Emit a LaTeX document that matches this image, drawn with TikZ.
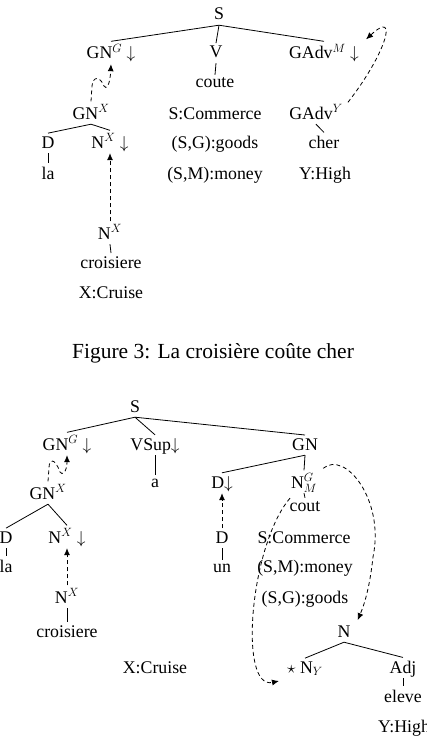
\documentclass[tikz,border=0pt]{standalone}
\usepackage{fontspec}
\setmainfont{Liberation Serif}
\usetikzlibrary{arrows.meta}
\tikzset{
  lbl/.style={anchor=base, inner sep=3pt, text depth=2pt, font=\fontsize{17.8}{21}\selectfont},
  edge/.style={line width=0.8pt},
  dep/.style={line width=0.8pt, dash pattern=on 4pt off 3pt, -{Latex[length=7pt,width=6pt]}},
}
\begin{document}
\begin{tikzpicture}[x=1pt,y=-1pt]
\useasboundingbox (0,0) rectangle (426,752);
% ---------- upper figure ----------
\node[lbl] (S1) at (219,20) {S};
\node[lbl] (GNG1) at (111,59) {GN$^{G}$ $\downarrow$};
\node[lbl] (V1) at (216,58) {V};
\node[lbl] (GAdvM1) at (324,59) {GAdv$^{M}$ $\downarrow$};
\node[lbl] (coute1) at (215,88) {coute};
\node[lbl] (GNX1) at (91,119) {GN$^{X}$};
\node[lbl] (SComm1) at (215,119) {S:Commerce};
\node[lbl] (GAdvY1) at (316,119) {GAdv$^{Y}$};
\node[lbl] (D1) at (48,148) {D};
\node[lbl] (NX1) at (110,148) {N$^{X}$ $\downarrow$};
\node[lbl] (SG1) at (215,148) {(S,G):goods};
\node[lbl] (cher1) at (324,148) {cher};
\node[lbl] (la1) at (48,179) {la};
\node[lbl] (SM1) at (215,179) {(S,M):money};
\node[lbl] (YHigh1) at (325,179) {Y:High};
\node[lbl] (NXb1) at (110,239) {N$^{X}$};
\node[lbl] (crois1) at (111,268) {croisiere};
\node[lbl] (Cruise1) at (111,298) {X:Cruise};

\draw[edge] (S1.south) -- (GNG1.north);
\draw[edge] (S1.south) -- (V1.north);
\draw[edge] (S1.south) -- (GAdvM1.north);
\draw[edge] (V1.south) -- (coute1.north);
\draw[edge] (GNX1.south) -- (D1.north);
\draw[edge] (GNX1.south) -- (NX1.north);
\draw[edge] (GAdvY1.south) -- (cher1.north);
\draw[edge] (D1.south) -- (la1.north);
\draw[edge] (NXb1.south) -- (crois1.north);

\draw[dep] (GNX1.north) -- (92,86) .. controls (93,76) and (100,76) .. (104,86)
  .. controls (106,90) and (110,86) .. (GNG1.south);
\draw[dep] (NXb1.north) -- (NX1.south);
\draw[dep] ([shift={(2,1)}]GAdvY1.north east) .. controls (385,55) and (400,8) .. ([shift={(4,-2)}]GAdvM1.north east);

% ---------- caption ----------
\node[lbl, font=\fontsize{21.5}{25}\selectfont] (cap) at (213,358) {Figure 3: La croisière coûte cher};

% ---------- lower figure ----------
\node[lbl] (S2) at (135,412) {S};
\node[lbl] (GNG2) at (67,450) {GN$^{G}$ $\downarrow$};
\node[lbl] (VSup2) at (155,450) {VSup$\downarrow$};
\node[lbl] (GN2) at (305,450) {GN};
\node[lbl] (a2) at (155,487) {a};
\node[lbl] (Dd2) at (222,488) {D$\downarrow$};
\node[lbl] (NGM2) at (304,488) {N$^{G}_{M}$};
\node[lbl] (cout2) at (305,511) {cout};
\node[lbl] (GNX2) at (48,499) {GN$^{X}$};
\node[lbl] (Da2) at (6,543) {D};
\node[lbl] (NX2) at (67,543) {N$^{X}$ $\downarrow$};
\node[lbl] (Db2) at (222,543) {D};
\node[lbl] (SComm2) at (304,543) {S:Commerce};
\node[lbl] (la2) at (6,572) {la};
\node[lbl] (un2) at (222,572) {un};
\node[lbl] (SM2) at (305,572) {(S,M):money};
\node[lbl] (NXb2) at (67,603) {N$^{X}$};
\node[lbl] (SG2) at (305,603) {(S,G):goods};
\node[lbl] (crois2) at (67,637) {croisiere};
\node[lbl] (N2) at (344,637) {N};
\node[lbl] (Cruise2) at (155,673) {X:Cruise};
\node[lbl] (NY2) at (305,673) {$\star$ N$_{Y}$};
\node[lbl] (Adj2) at (403,673) {Adj};
\node[lbl] (eleve2) at (403,702) {eleve};
\node[lbl, anchor=base west] (YHigh2) at (375,732) {Y:High};

\draw[edge] (S2.south) -- (GNG2.north);
\draw[edge] (S2.south) -- (VSup2.north);
\draw[edge] (S2.south) -- (GN2.north);
\draw[edge] (VSup2.south) -- (a2.north);
\draw[edge] (GN2.south) -- (Dd2.north);
\draw[edge] (GN2.south) -- (NGM2.north);
\draw[edge] (NGM2.south) -- (cout2.north);
\draw[edge] (GNX2.south) -- (Da2.north);
\draw[edge] (GNX2.south) -- (NX2.north);
\draw[edge] (Da2.south) -- (la2.north);
\draw[edge] (Db2.south) -- (un2.north);
\draw[edge] (NXb2.south) -- (crois2.north);
\draw[edge] (N2.south) -- (NY2.north);
\draw[edge] (N2.south) -- (Adj2.north);
\draw[edge] (Adj2.south) -- (eleve2.north);

\draw[dep] (GNX2.north) -- (49,468) .. controls (49,458) and (55,458) .. (60,472)
  .. controls (62,476) and (67,472) .. (GNG2.south);
\draw[dep] (Db2.north) -- (Dd2.south);
\draw[dep] (NXb2.north) -- (NX2.south);
\draw[dep] ([shift={(-14,5)}]NGM2.south) .. controls (250,545) and (238,690) .. ([shift={(-5,8)}]NY2.base west);
\draw[dep] ([shift={(3,-2)}]NGM2.north east) .. controls (345,450) and (385,500) .. (373,557)
  .. controls (370,585) and (365,603) .. ([shift={(4,-2)}]N2.north east);
\end{tikzpicture}
\end{document}
